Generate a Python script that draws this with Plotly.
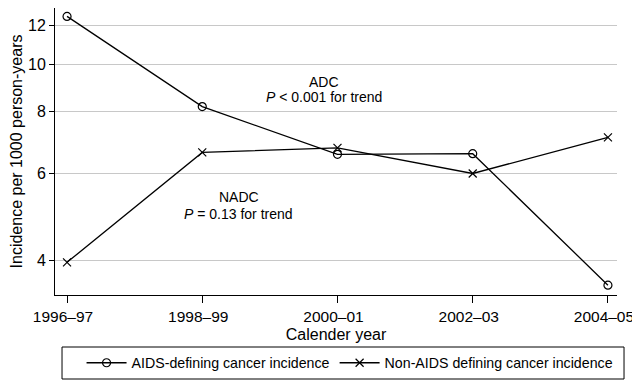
import plotly.graph_objects as go
import math

years = ["1996–97", "1998–99", "2000–01", "2002–03", "2004–05"]
adc = [12.5, 8.2, 6.56, 6.58, 3.56]
nadc = [3.96, 6.62, 6.76, 6.0, 7.1]
ytick_vals = [4, 6, 8, 10, 12]

font = "Liberation Sans, Arial, sans-serif"

fig = go.Figure()
fig.add_trace(go.Scatter(
    x=years, y=adc, mode="lines+markers", name="AIDS-defining cancer incidence",
    line=dict(color="black", width=1.3),
    marker=dict(symbol="circle-open", size=8, color="black", line=dict(width=1.2)),
))
fig.add_trace(go.Scatter(
    x=years, y=nadc, mode="lines+markers", name="Non-AIDS defining cancer incidence",
    line=dict(color="black", width=1.3),
    marker=dict(symbol="x-thin-open", size=8, color="black", line=dict(width=1.2, color="black")),
))

afont = dict(family=font, size=14, color="black")
for txt, xx, yy in [("ADC", 1.9, 9.19), ("<i>P</i> < 0.001 for trend", 1.9, 8.57),
                    ("NADC", 1.27, 5.37), ("<i>P</i> = 0.13 for trend", 1.27, 4.96)]:
    fig.add_annotation(x=xx, y=math.log10(yy), xref="x", yref="y", text=txt,
                       showarrow=False, font=afont, align="center")

# legend box
fig.add_shape(type="rect", xref="paper", yref="paper",
              x0=0.0125, x1=1.0125, y0=-0.2927, y1=-0.1812,
              line=dict(color="black", width=1), fillcolor="rgba(0,0,0,0)")

# page body has an 8px margin, so the figure is 8px smaller and margins shifted
fig.update_layout(
    width=632, height=378,
    margin=dict(l=47, r=23, t=0, b=91, autoexpand=False),
    paper_bgcolor="white", plot_bgcolor="white",
    font=dict(family=font, size=16, color="black"),
    showlegend=True,
    legend=dict(orientation="h", x=0.525, xanchor="center", y=-0.237, yanchor="middle",
                font=dict(family=font, size=14.2, color="black"),
                bgcolor="rgba(0,0,0,0)", itemwidth=40),
    xaxis=dict(
        type="category", range=[-0.089, 4.067], automargin=False,
        showline=True, linecolor="black", linewidth=1,
        ticks="outside", ticklen=7, tickcolor="black",
        showgrid=False, zeroline=False, ticklabelshift=-4,
        title=dict(text="Calender year", font=dict(size=16), standoff=5),
        tickfont=dict(size=15.5),
    ),
    yaxis=dict(
        type="log", range=[math.log10(3.4), math.log10(13.0)], automargin=False,
        tickvals=ytick_vals, ticktext=[str(v) for v in ytick_vals],
        showline=True, linecolor="black", linewidth=1,
        ticks="outside", ticklen=5, tickcolor="black",
        showgrid=True, gridcolor="#c8c8c8", gridwidth=1,
        zeroline=False,
        title=dict(text="Incidence per 1000 person-years", font=dict(size=16), standoff=8),
        tickfont=dict(size=16),
    ),
)

fig.write_html("out.html")
